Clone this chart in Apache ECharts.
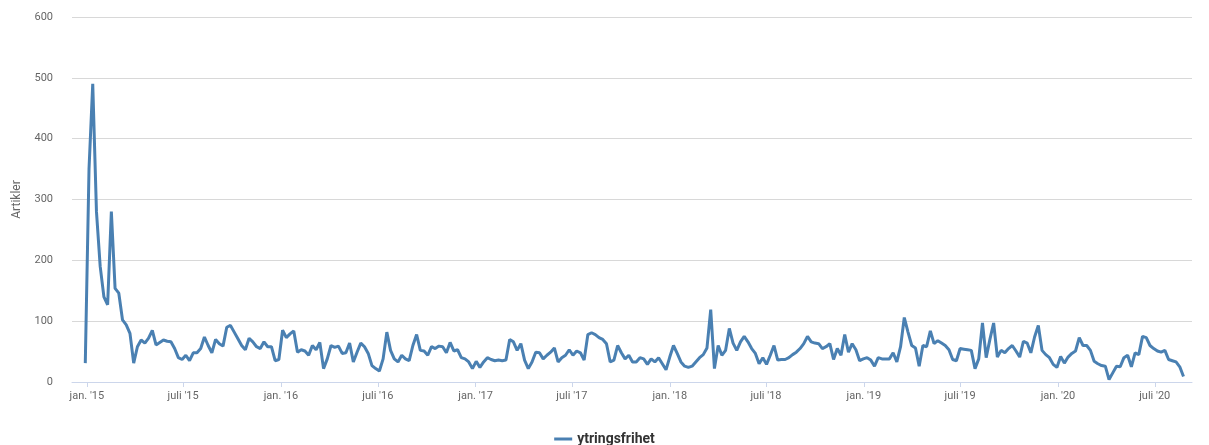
<!DOCTYPE html>
<html>
<head>
<meta charset="utf-8">
<script src="https://cdn.jsdelivr.net/npm/echarts@6/dist/echarts.min.js"></script>
<style>
html,body{margin:0;padding:0;background:#fff;}
#chart{width:1209px;height:445px;}
</style>
</head>
<body>
<div id="chart"></div>
<script>
// Weekly article counts for "ytringsfrihet", first week starting 2014-12-29
const seriesName = 'ytringsfrihet';
const firstWeek = [2014, 11, 29];
const values = [
 31,350,490,280,190,140,127,280,154,146,102,94,80,31,58,69,64,72,85,61,
 65,69,67,66,55,40,37,44,35,48,48,55,74,60,48,70,63,59,90,93,
 82,71,60,53,72,66,58,55,66,58,58,35,37,85,73,79,84,49,53,51,
 44,60,53,65,22,38,60,57,59,47,48,64,33,49,64,58,47,27,22,18,
 38,82,52,38,33,44,38,35,60,78,52,51,44,58,55,59,58,48,65,51,
 53,40,38,33,22,34,24,33,40,37,35,36,35,36,70,66,52,63,36,22,
 33,49,48,38,44,49,56,33,40,44,53,44,51,48,36,78,81,78,73,70,
 63,33,36,60,48,38,44,33,33,40,38,29,38,33,40,30,20,41,60,47,
 33,26,24,26,33,40,45,56,119,22,60,44,52,88,64,52,66,75,66,55,
 47,30,40,29,44,60,36,37,37,40,45,49,55,63,75,66,64,63,55,58,
 63,37,55,44,78,49,63,53,35,38,40,36,26,40,38,38,38,48,33,58,
 106,82,60,56,26,60,58,84,63,68,64,60,53,37,35,55,54,53,52,22,
 38,97,40,70,97,41,52,48,55,60,51,41,67,64,48,74,93,52,45,40,
 29,24,42,31,41,47,51,73,60,60,52,34,30,27,26,4,15,26,25,40,
 44,25,48,45,75,73,60,55,51,49,52,37,35,33,25,9
];
const yTicks = [0, 100, 200, 300, 400, 500, 600];
const tickDates = [[2015,0,1],[2015,6,1],[2016,0,1],[2016,6,1],[2017,0,1],[2017,6,1],[2018,0,1],[2018,6,1],[2019,0,1],[2019,6,1],[2020,0,1],[2020,6,1]];
const tickLabels = ["jan. '15","juli '15","jan. '16","juli '16","jan. '17","juli '17","jan. '18","juli '18","jan. '19","juli '19","jan. '20","juli '20"];

const DAY = 864e5;
const t0 = Date.UTC(firstWeek[0], firstWeek[1], firstWeek[2]);
const data = values.map((v, i) => [t0 + i * 7 * DAY, v]);
const tickTimes = tickDates.map(d => Date.UTC(d[0], d[1], d[2]));
function labelFor(v) {
  let best = -1, bd = Infinity;
  tickTimes.forEach((t, i) => { const d = Math.abs(t - v); if (d < bd) { bd = d; best = i; } });
  return bd < DAY ? tickLabels[best] : '';
}

const chart = echarts.init(document.getElementById('chart'), null, {renderer: 'canvas'});
chart.setOption({
  animation: false,
  backgroundColor: '#ffffff',
  textStyle: {fontFamily: 'Roboto'},
  grid: {left: 72, right: 17, top: 17, bottom: 63, containLabel: false},
  legend: {
    data: [{name: seriesName, icon: 'rect'}],
    top: 427,
    left: 'center',
    itemWidth: 18,
    itemHeight: 3,
    itemGap: 7,
    textStyle: {color: '#333333', fontSize: 14, fontWeight: 'bold', fontFamily: 'Roboto'}
  },
  xAxis: {
    type: 'value',
    min: Date.UTC(2014, 11, 4),
    max: Date.UTC(2020, 8, 9),
    axisLine: {show: true, lineStyle: {color: '#ccd6eb', width: 1}},
    axisTick: {show: true, customValues: tickTimes, length: 5, lineStyle: {color: '#ccd6eb'}},
    axisLabel: {
      customValues: tickTimes,
      color: '#666666', fontSize: 11, margin: 9,
      formatter: v => labelFor(v)
    },
    splitLine: {show: false}
  },
  yAxis: {
    type: 'value',
    min: yTicks[0], max: yTicks[yTicks.length - 1], interval: 100,
    name: 'Artikler',
    nameLocation: 'middle',
    nameGap: 49,
    nameTextStyle: {color: '#666666', fontSize: 12},
    axisLine: {show: false},
    axisTick: {show: false},
    axisLabel: {color: '#666666', fontSize: 11, margin: 19},
    splitLine: {lineStyle: {color: '#d8d8d8', width: 1}}
  },
  series: [{
    name: seriesName,
    type: 'line',
    data: data,
    showSymbol: false,
    symbol: 'none',
    lineStyle: {color: '#4a80b2', width: 3},
    itemStyle: {color: '#4a80b2'}
  }]
});
</script>
</body>
</html>
